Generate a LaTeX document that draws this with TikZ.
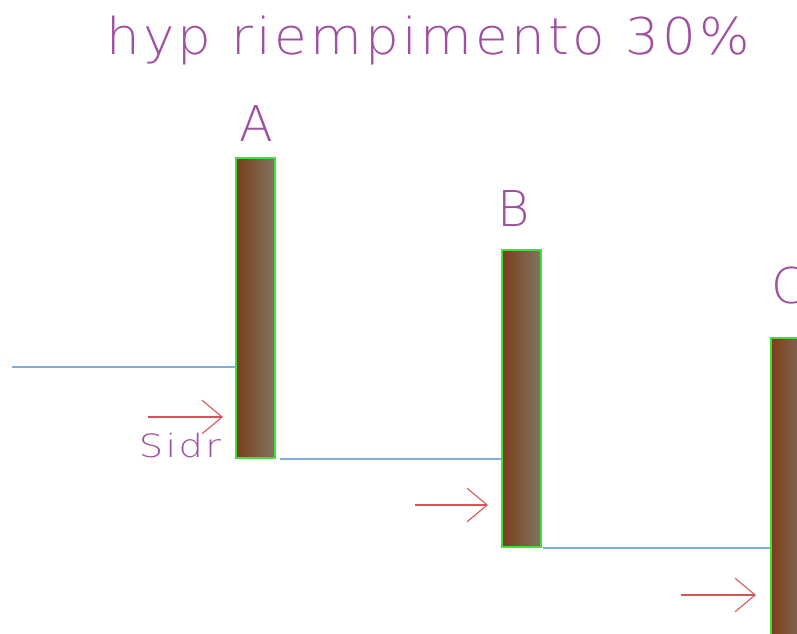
\documentclass[tikz,border=0pt]{standalone}
\usepackage{fontspec}
\newfontfamily\cadfont{DejaVu Sans ExtraLight}
\newfontfamily\cadwide{DejaVu Sans ExtraLight}[LetterSpace=6.0]
\usetikzlibrary{arrows.meta}
\definecolor{txtpurple}{RGB}{160,80,160}
\definecolor{arrred}{RGB}{212,85,85}
\definecolor{lineblue}{RGB}{125,175,220}
\definecolor{edgegreen}{RGB}{60,225,60}
\definecolor{brownL}{RGB}{124,62,26}
\definecolor{brownR}{RGB}{128,116,98}
\begin{document}
\begin{tikzpicture}[x=0.75pt,y=-0.75pt,
  pile/.style={draw=edgegreen, line width=1.5pt, left color=brownL, right color=brownR,
    inner sep=0pt, minimum width=29pt, anchor=north west},
  lbl/.style={text=txtpurple, font=\cadfont\fontsize{37}{37}\selectfont, inner sep=0pt, anchor=base},
  water/.style={draw=lineblue, line width=0.8pt},
  push/.style={draw=arrred, line width=0.8pt, -{Straight Barb[length=15pt,width=25pt,line width=0.8pt]}}]
\useasboundingbox (0,0) rectangle (797,633);
\clip (0,0) rectangle (797,633);
% title
\node[lbl, font=\cadwide\fontsize{38}{38}\selectfont, xscale=1.05] (title) at (428,54) {hyp riempimento 30\%};
% piles
\node[pile, minimum height=225pt] (A) at (235,157) {};
\node[pile, minimum height=222.75pt] (B) at (501,249) {};
\node[pile, minimum height=240pt] (C) at (770,337) {};
% labels
\node[lbl] (la) at (256,141) {A};
\node[lbl] (lb) at (514,226) {B};
\node[lbl] (lc) at (789,303) {C};
\node[lbl, font=\cadwide\fontsize{24}{24}\selectfont, xscale=1.2] (sidr) at (180,457) {Sidr};
% water levels
\coordinate (w0) at (12,367);
\draw[water] (w0) -- (w0 -| A.west);
\draw[water] ([xshift=3pt]A.south east) -- (B.west |- A.south);
\draw[water] ([xshift=1pt]B.south east) -- (C.west |- B.south);
% thrust arrows
\coordinate (a1) at (148,417);
\coordinate (t1) at (223,417);
\coordinate (a2) at (415,505);
\coordinate (t2) at (488,505);
\coordinate (a3) at (681,595);
\coordinate (t3) at (756,595);
\draw[push] (a1) -- (t1);
\draw[push] (a2) -- (t2);
\draw[push] (a3) -- (t3);
\end{tikzpicture}
\end{document}
